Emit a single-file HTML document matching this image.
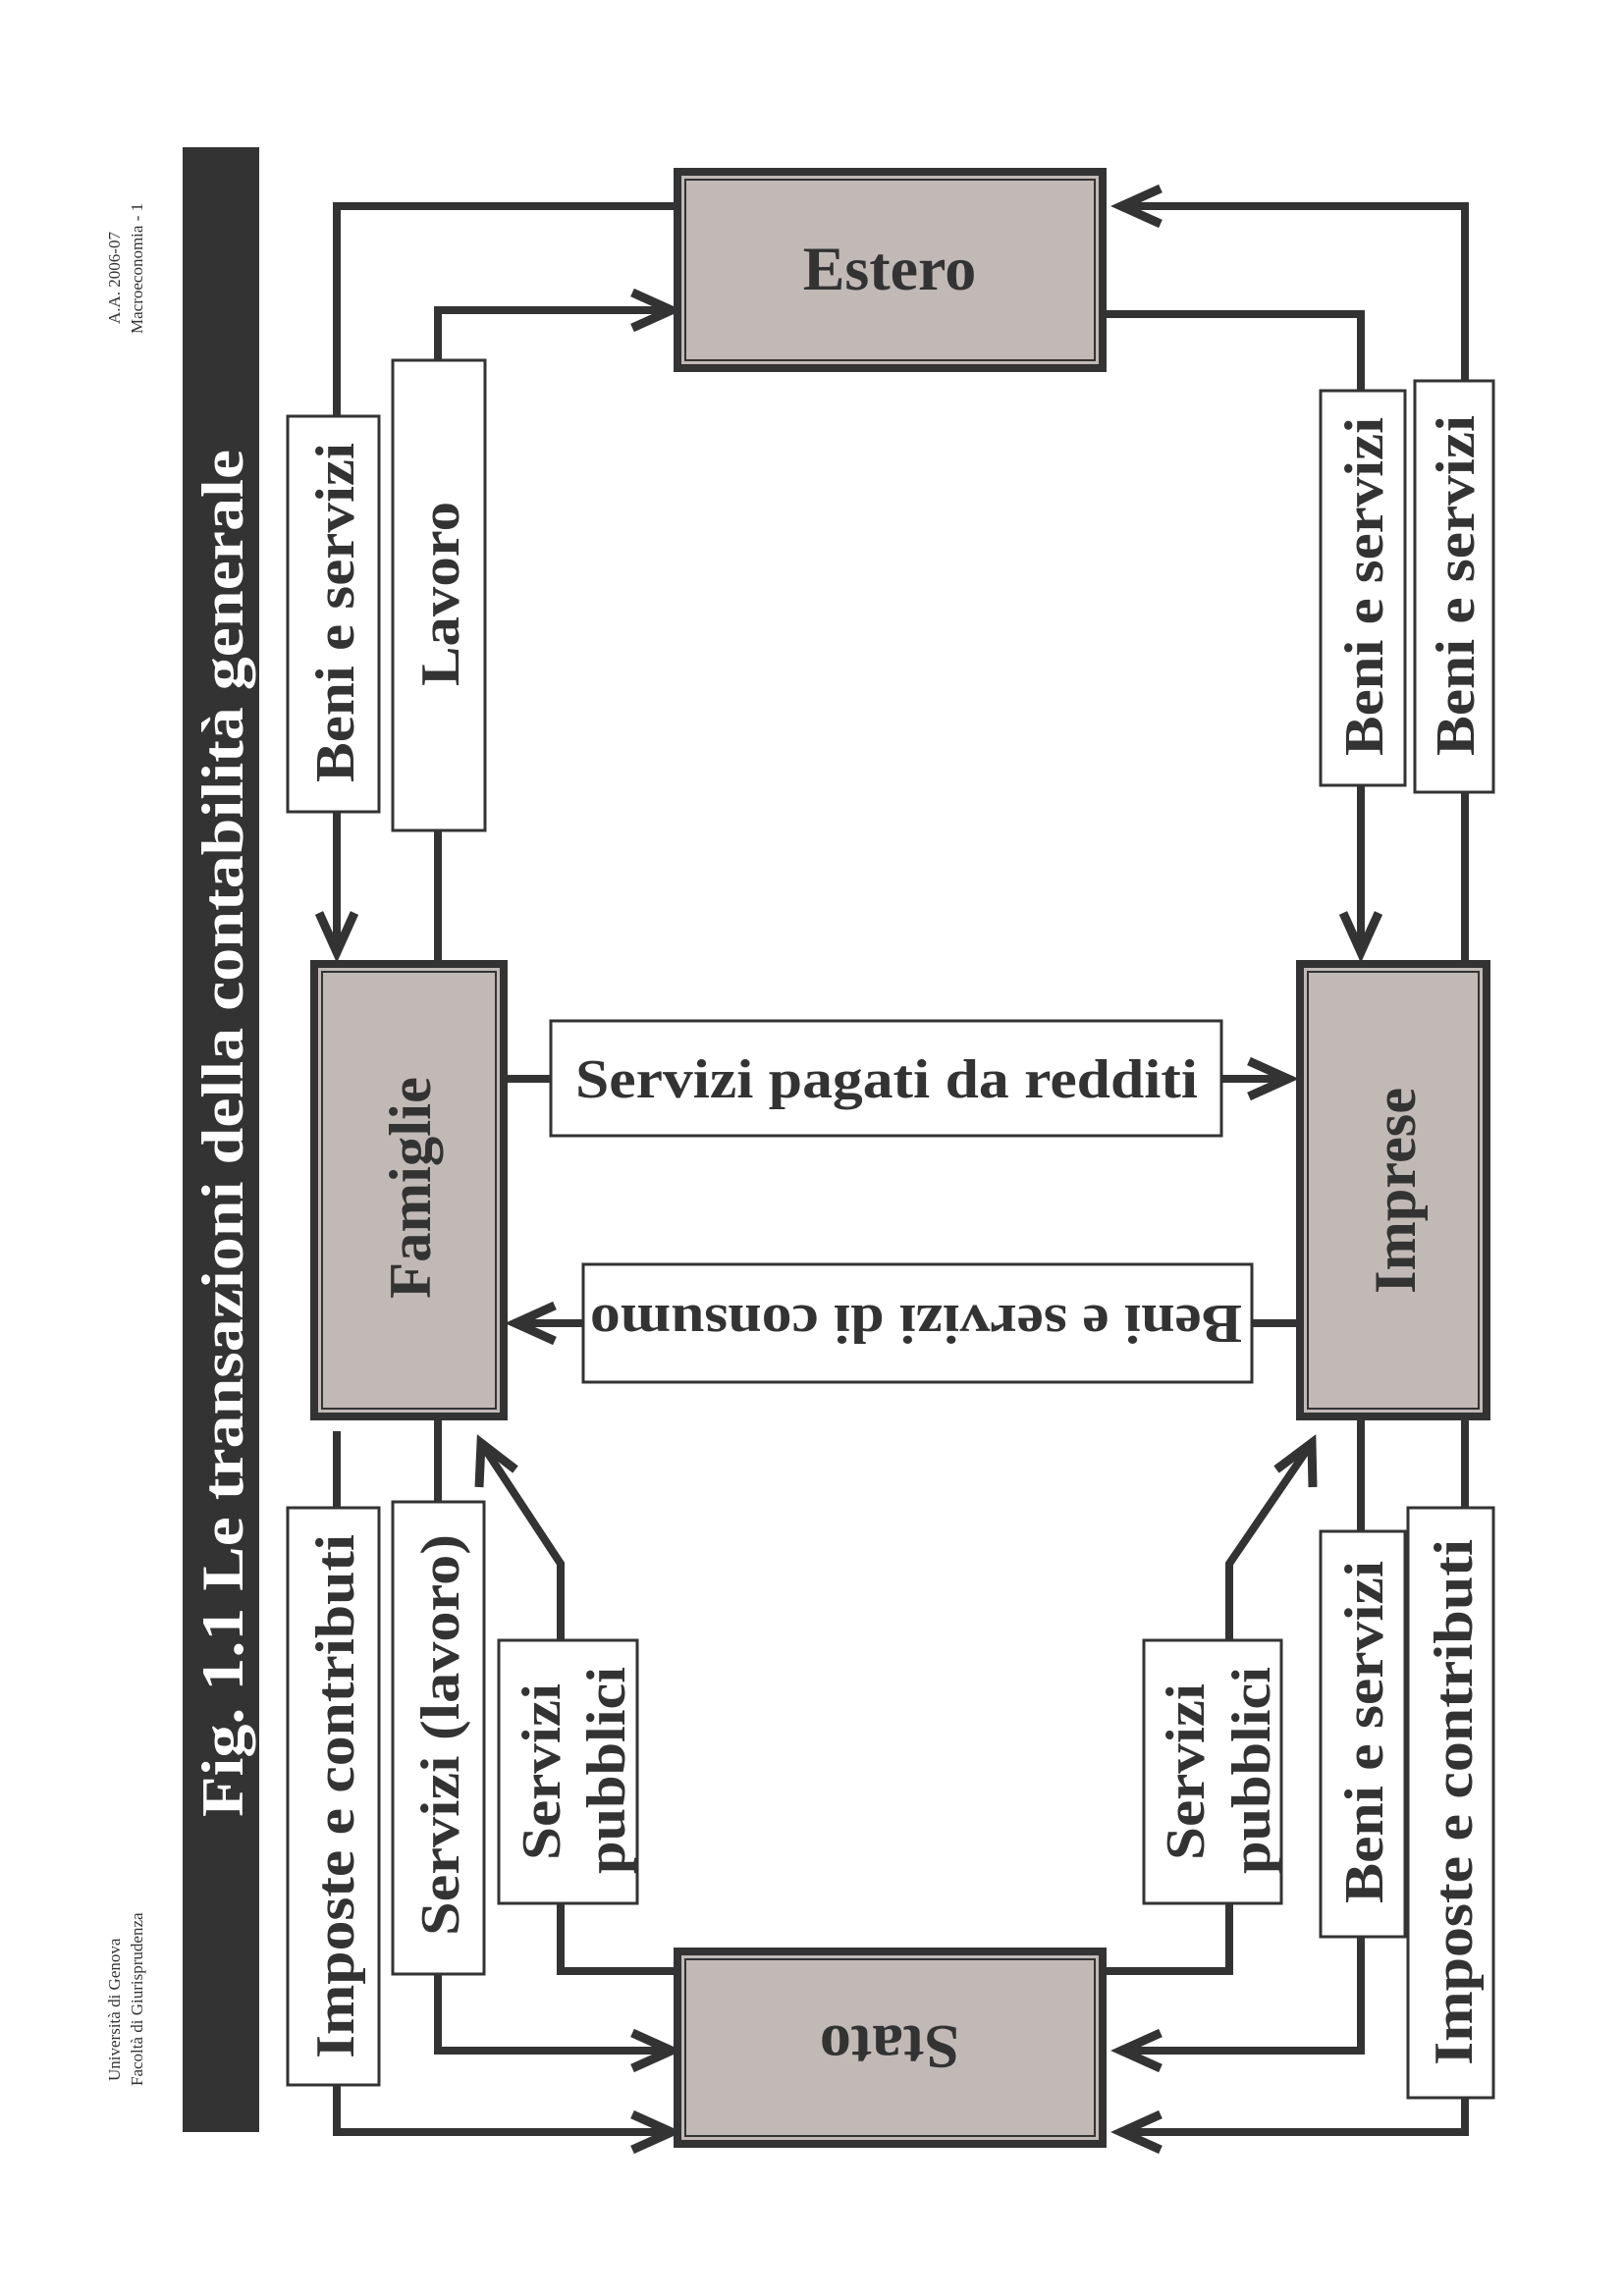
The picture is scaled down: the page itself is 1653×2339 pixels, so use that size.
<!DOCTYPE html>
<html><head><meta charset="utf-8"><style>
html,body{margin:0;padding:0;background:#fff;}
svg{display:block;}
text{font-family:"Liberation Serif",serif;font-weight:bold;fill:#333;}
</style></head><body>
<svg width="1653" height="2339" viewBox="0 0 1653 2339" xmlns="http://www.w3.org/2000/svg">
<g font-family="Liberation Serif">
<!-- small header texts -->
<text transform="translate(122,330) rotate(-90)" font-size="17" font-weight="normal" style="font-weight:normal" fill="#444">A.A. 2006-07</text>
<text transform="translate(145,340) rotate(-90)" font-size="17" style="font-weight:normal" fill="#444">Macroeconomia - 1</text>
<text transform="translate(122,2120) rotate(-90)" font-size="17" style="font-weight:normal" fill="#444">Università di Genova</text>
<text transform="translate(145,2125) rotate(-90)" font-size="17" style="font-weight:normal" fill="#444">Facoltà di Giurisprudenza</text>

<!-- title bar -->
<rect x="186" y="150" width="78" height="2022" fill="#333"/>
<text transform="translate(247,1851) rotate(-90)" font-size="60" fill="#fff" style="fill:#fff" textLength="1393" lengthAdjust="spacingAndGlyphs">Fig. 1.1  Le transazioni della contabilità generale</text>

<g stroke="#333" stroke-width="8" fill="none" stroke-linejoin="miter">
<!-- top-left: Estero -> Famiglie (Beni e servizi) -->
<polyline points="691,210 343,210 343,970"/>
<polyline points="325,930 343,970 361,930" stroke-width="9"/>
<!-- Lavoro: Famiglie -> Estero -->
<polyline points="446,978 446,316 684,316"/>
<polyline points="644,298 684,316 644,334" stroke-width="9"/>
<!-- Estero -> Imprese -->
<polyline points="1127,320 1386,320 1386,970"/>
<polyline points="1368,930 1386,970 1404,930" stroke-width="9"/>
<!-- Imprese -> Estero -->
<polyline points="1492,978 1492,210 1142,210"/>
<polyline points="1182,192 1142,210 1182,228" stroke-width="9"/>
<!-- Famiglie -> Imprese -->
<polyline points="517,1099 1312,1099"/>
<polyline points="1272,1081 1312,1099 1272,1117" stroke-width="9"/>
<!-- Imprese -> Famiglie -->
<polyline points="1320,1348 525,1348"/>
<polyline points="565,1330 525,1348 565,1366" stroke-width="9"/>
<!-- Imposte e contributi left -->
<polyline points="343,1458 343,2172 684,2172"/>
<polyline points="644,2154 684,2172 644,2190" stroke-width="9"/>
<!-- Servizi lavoro -->
<polyline points="446,1447 446,2089 684,2089"/>
<polyline points="644,2071 684,2089 644,2107" stroke-width="9"/>
<!-- Servizi pubblici left -->
<polyline points="691,2008 571,2008 571,1593 490,1470"/>
<polyline points="488,1515 490,1470 525,1497" stroke-width="9"/>
<!-- Servizi pubblici right -->
<polyline points="1127,2008 1252,2008 1252,1593 1336,1470"/>
<polyline points="1300,1497 1336,1470 1337,1515" stroke-width="9"/>
<!-- Beni e servizi right bottom -->
<polyline points="1386,1447 1386,2089 1142,2089"/>
<polyline points="1182,2071 1142,2089 1182,2107" stroke-width="9"/>
<!-- Imposte right -->
<polyline points="1492,1447 1492,2172 1142,2172"/>
<polyline points="1182,2154 1142,2172 1182,2190" stroke-width="9"/>
</g>

<!-- boxes -->
<g>
<rect x="690" y="175" width="433" height="200" fill="#c1b9b6" stroke="#333" stroke-width="8"/>
<rect x="698" y="183" width="417" height="184" fill="none" stroke="#333" stroke-width="2"/>
<text x="906" y="295" font-size="64" text-anchor="middle">Estero</text>

<rect x="320" y="982" width="193" height="461" fill="#c1b9b6" stroke="#333" stroke-width="8"/>
<rect x="328" y="990" width="177" height="445" fill="none" stroke="#333" stroke-width="2"/>
<text transform="translate(438,1210) rotate(-90)" font-size="60" text-anchor="middle" textLength="226" lengthAdjust="spacingAndGlyphs">Famiglie</text>

<rect x="1324" y="982" width="190" height="461" fill="#c1b9b6" stroke="#333" stroke-width="8"/>
<rect x="1332" y="990" width="174" height="445" fill="none" stroke="#333" stroke-width="2"/>
<text transform="translate(1441,1213) rotate(-90)" font-size="60" text-anchor="middle" textLength="210" lengthAdjust="spacingAndGlyphs">Imprese</text>

<rect x="690" y="1988" width="433" height="196" fill="#c1b9b6" stroke="#333" stroke-width="8"/>
<rect x="698" y="1996" width="417" height="180" fill="none" stroke="#333" stroke-width="2"/>
<text transform="translate(906,2064) rotate(180)" font-size="64" text-anchor="middle">Stato</text>
</g>

<!-- labels -->
<g fill="#fff" stroke="#333" stroke-width="3">
<rect x="293" y="424" width="93" height="403"/>
<rect x="400" y="367" width="94" height="479"/>
<rect x="1345" y="398" width="86" height="402"/>
<rect x="1441" y="388" width="80" height="419"/>
<rect x="561" y="1040" width="683" height="117"/>
<rect x="594" y="1288" width="681" height="120"/>
<rect x="293" y="1536" width="93" height="588"/>
<rect x="400" y="1530" width="93" height="481"/>
<rect x="508" y="1671" width="141" height="268"/>
<rect x="1165" y="1671" width="140" height="268"/>
<rect x="1345" y="1560" width="86" height="413"/>
<rect x="1434" y="1536" width="87" height="601"/>
</g>
<g font-size="56">
<text transform="translate(360,797) rotate(-90)" textLength="346" lengthAdjust="spacingAndGlyphs">Beni e servizi</text>
<text transform="translate(467,699) rotate(-90)" textLength="188" lengthAdjust="spacingAndGlyphs">Lavoro</text>
<text transform="translate(1408,770) rotate(-90)" textLength="345" lengthAdjust="spacingAndGlyphs">Beni e servizi</text>
<text transform="translate(1501,770) rotate(-90)" textLength="347" lengthAdjust="spacingAndGlyphs">Beni e servizi</text>
<text x="586" y="1118" textLength="634" lengthAdjust="spacingAndGlyphs">Servizi pagati da redditi</text>
<text transform="translate(1265,1330) rotate(180)" textLength="664" lengthAdjust="spacingAndGlyphs">Beni e servizi di consumo</text>
<text transform="translate(360,2097) rotate(-90)" textLength="534" lengthAdjust="spacingAndGlyphs">Imposte e contributi</text>
<text transform="translate(467,1972) rotate(-90)" textLength="409" lengthAdjust="spacingAndGlyphs">Servizi (lavoro)</text>
<text transform="translate(570,1895) rotate(-90)" textLength="180" lengthAdjust="spacingAndGlyphs">Servizi</text>
<text transform="translate(636,1909) rotate(-90)" textLength="211" lengthAdjust="spacingAndGlyphs">pubblici</text>
<text transform="translate(1226,1895) rotate(-90)" textLength="180" lengthAdjust="spacingAndGlyphs">Servizi</text>
<text transform="translate(1293,1909) rotate(-90)" textLength="211" lengthAdjust="spacingAndGlyphs">pubblici</text>
<text transform="translate(1408,1939) rotate(-90)" textLength="349" lengthAdjust="spacingAndGlyphs">Beni e servizi</text>
<text transform="translate(1499,2104) rotate(-90)" textLength="536" lengthAdjust="spacingAndGlyphs">Imposte e contributi</text>
</g>
</g>
</svg>
</body></html>
